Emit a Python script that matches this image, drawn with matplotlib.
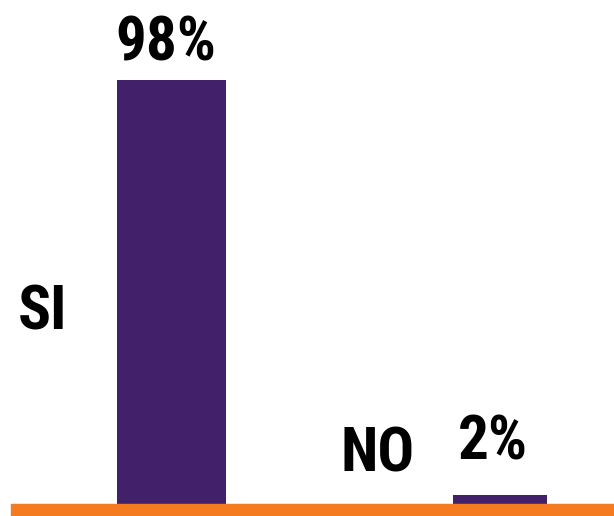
import matplotlib
matplotlib.use("Agg")
import matplotlib.pyplot as plt
from matplotlib.patches import Rectangle

# Survey answers and their share of responses
categories = ["SI", "NO"]
values = [98, 2]
value_labels = ["98%", "2%"]

PURPLE = "#43206a"
ORANGE = "#f47b20"
FONT = ["Roboto Condensed", "DejaVu Sans"]

W, H = 614, 516
fig = plt.figure(figsize=(W / 100, H / 100), dpi=100)
fig.patch.set_facecolor("white")

base_px = 504
ax = fig.add_axes([0, (H - base_px) / H, 1, base_px / H])
ax.set_axis_off()

positions = list(range(len(categories)))
widths = [0.332, 0.286]
ax.bar(positions, values, width=widths, color=PURPLE)
ax.set_xlim(-0.522, 1.347)
ax.set_ylim(0, 116.5)

text_style = dict(textcoords="offset pixels", ha="center", va="baseline",
                  fontsize=44, fontweight="bold", family=FONT, color="black")

# value labels above the bars
label_offsets = [(-6, 20), (-7, 36)]
for x, v, lab, off in zip(positions, values, value_labels, label_offsets):
    ax.annotate(lab, xy=(x, v), xytext=off, **text_style)

# category names set to the left of each bar
cat_offsets = [(-129, 174), (-122, 32)]
for x, c, off in zip(positions, categories, cat_offsets):
    ax.annotate(c, xy=(x, 0), xytext=off, **text_style)

# orange baseline strip
fig.patches.append(Rectangle((11 / W, 0), 1 - 11 / W, (H - base_px) / H,
                             transform=fig.transFigure, color=ORANGE, zorder=0))

fig.savefig("out.png", dpi=100, facecolor="white")
